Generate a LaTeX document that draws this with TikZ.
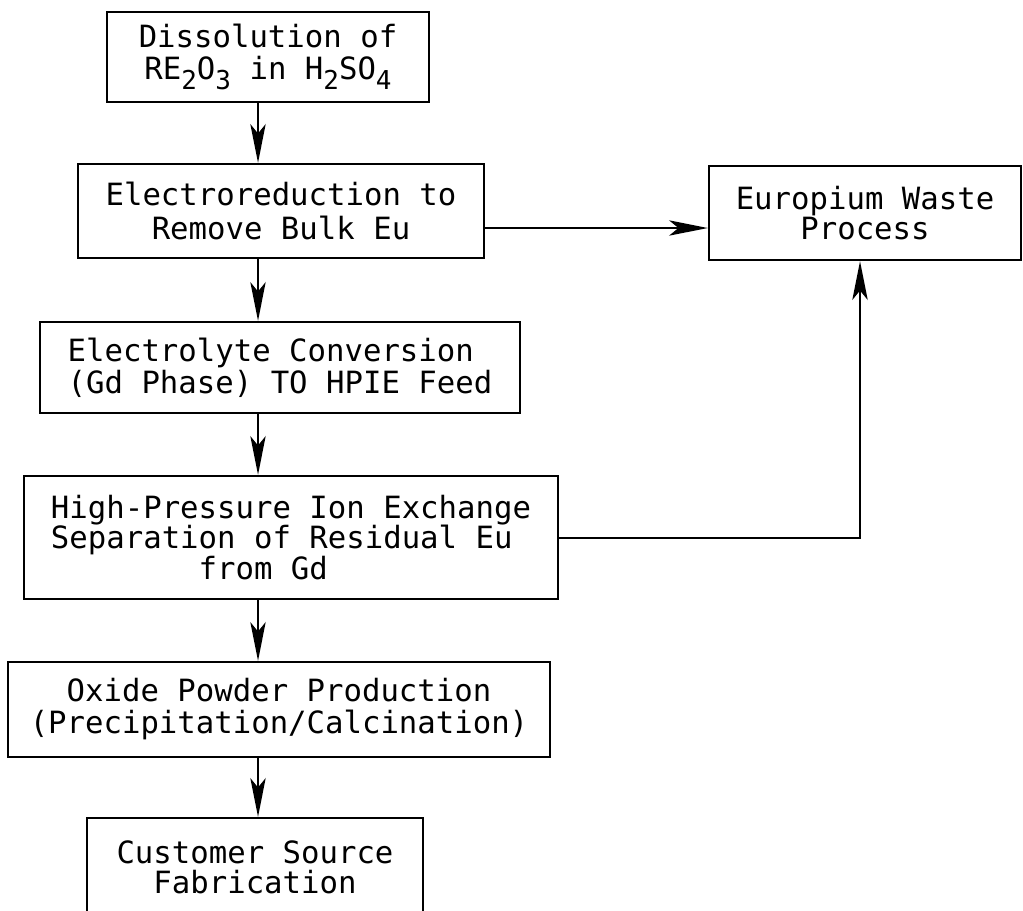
\documentclass[tikz,border=0pt]{standalone}
\usepackage{fontspec}
\setmonofont{DejaVu Sans Mono}
\usetikzlibrary{arrows.meta}
% chemical subscripts: full-size digits set below the baseline, typewriter style
\newcommand\lowsub[1]{\raisebox{-0.3em}{\fontsize{19.5pt}{19.5pt}\selectfont #1}}
\begin{document}
\begin{tikzpicture}[x=0.75pt,y=-0.75pt,
  box/.style={draw, line width=1.8pt, inner sep=0pt, align=center,
    font=\ttfamily\fontsize{23pt}{24pt}\selectfont},
  arr/.style={line width=1.8pt,
    -{Stealth[length=29pt,width=11.5pt,inset=7pt]}}]
\useasboundingbox (0,0) rectangle (1023,910);
\clip (0,0) rectangle (1023,910);

% process steps
\node[box, minimum width={322*0.75pt}, minimum height={90*0.75pt}] (d) at (268,57)
  {Dissolution of\\RE\lowsub{2}O\lowsub{3} in H\lowsub{2}SO\lowsub{4}};
\node[box, minimum width={406*0.75pt}, minimum height={94*0.75pt},
  font=\ttfamily\fontsize{23pt}{25.5pt}\selectfont] (e) at (281,211)
  {Electroreduction to\\Remove Bulk Eu};
\node[box, minimum width={312*0.75pt}, minimum height={94*0.75pt},
  font=\ttfamily\fontsize{23pt}{21.5pt}\selectfont] (w) at (865,213)
  {Europium Waste\\Process};
\node[box, align=left, minimum width={480*0.75pt}, minimum height={91*0.75pt}] (c) at (280,367.5)
  {Electrolyte Conversion\\(Gd Phase) TO HPIE Feed};
\node[box, align=left, minimum width={534*0.75pt}, minimum height={123*0.75pt},
  font=\ttfamily\fontsize{23pt}{23pt}\selectfont] (h) at (291,537.5)
  {High-Pressure Ion Exchange\\Separation of Residual Eu\\\hphantom{00000000}from Gd};
\node[box, minimum width={542*0.75pt}, minimum height={95*0.75pt}] (o) at (279,709.5)
  {Oxide Powder Production\\(Precipitation/Calcination)};
\node[box, minimum width={336*0.75pt}, minimum height={98*0.75pt},
  font=\ttfamily\fontsize{23pt}{22.5pt}\selectfont] (f) at (255,867)
  {Customer Source\\Fabrication};

% guide lines for the connectors
\coordinate (col) at (258,0);
\coordinate (ewrow) at (0,228);
\coordinate (hrow) at (0,538);
\coordinate (wcol) at (860,0);

% main flow
\draw[arr] (d.south -| col) -- (e.north -| col);
\draw[arr] (e.south -| col) -- (c.north -| col);
\draw[arr] (c.south -| col) -- (h.north -| col);
\draw[arr] (h.south -| col) -- (o.north -| col);
\draw[arr] (o.south -| col) -- (f.north -| col);

% europium side streams
\draw[arr] (e.east |- ewrow) -- (w.west |- ewrow);
\draw[arr] (h.east |- hrow) -| (wcol |- w.south);
\end{tikzpicture}
\end{document}
